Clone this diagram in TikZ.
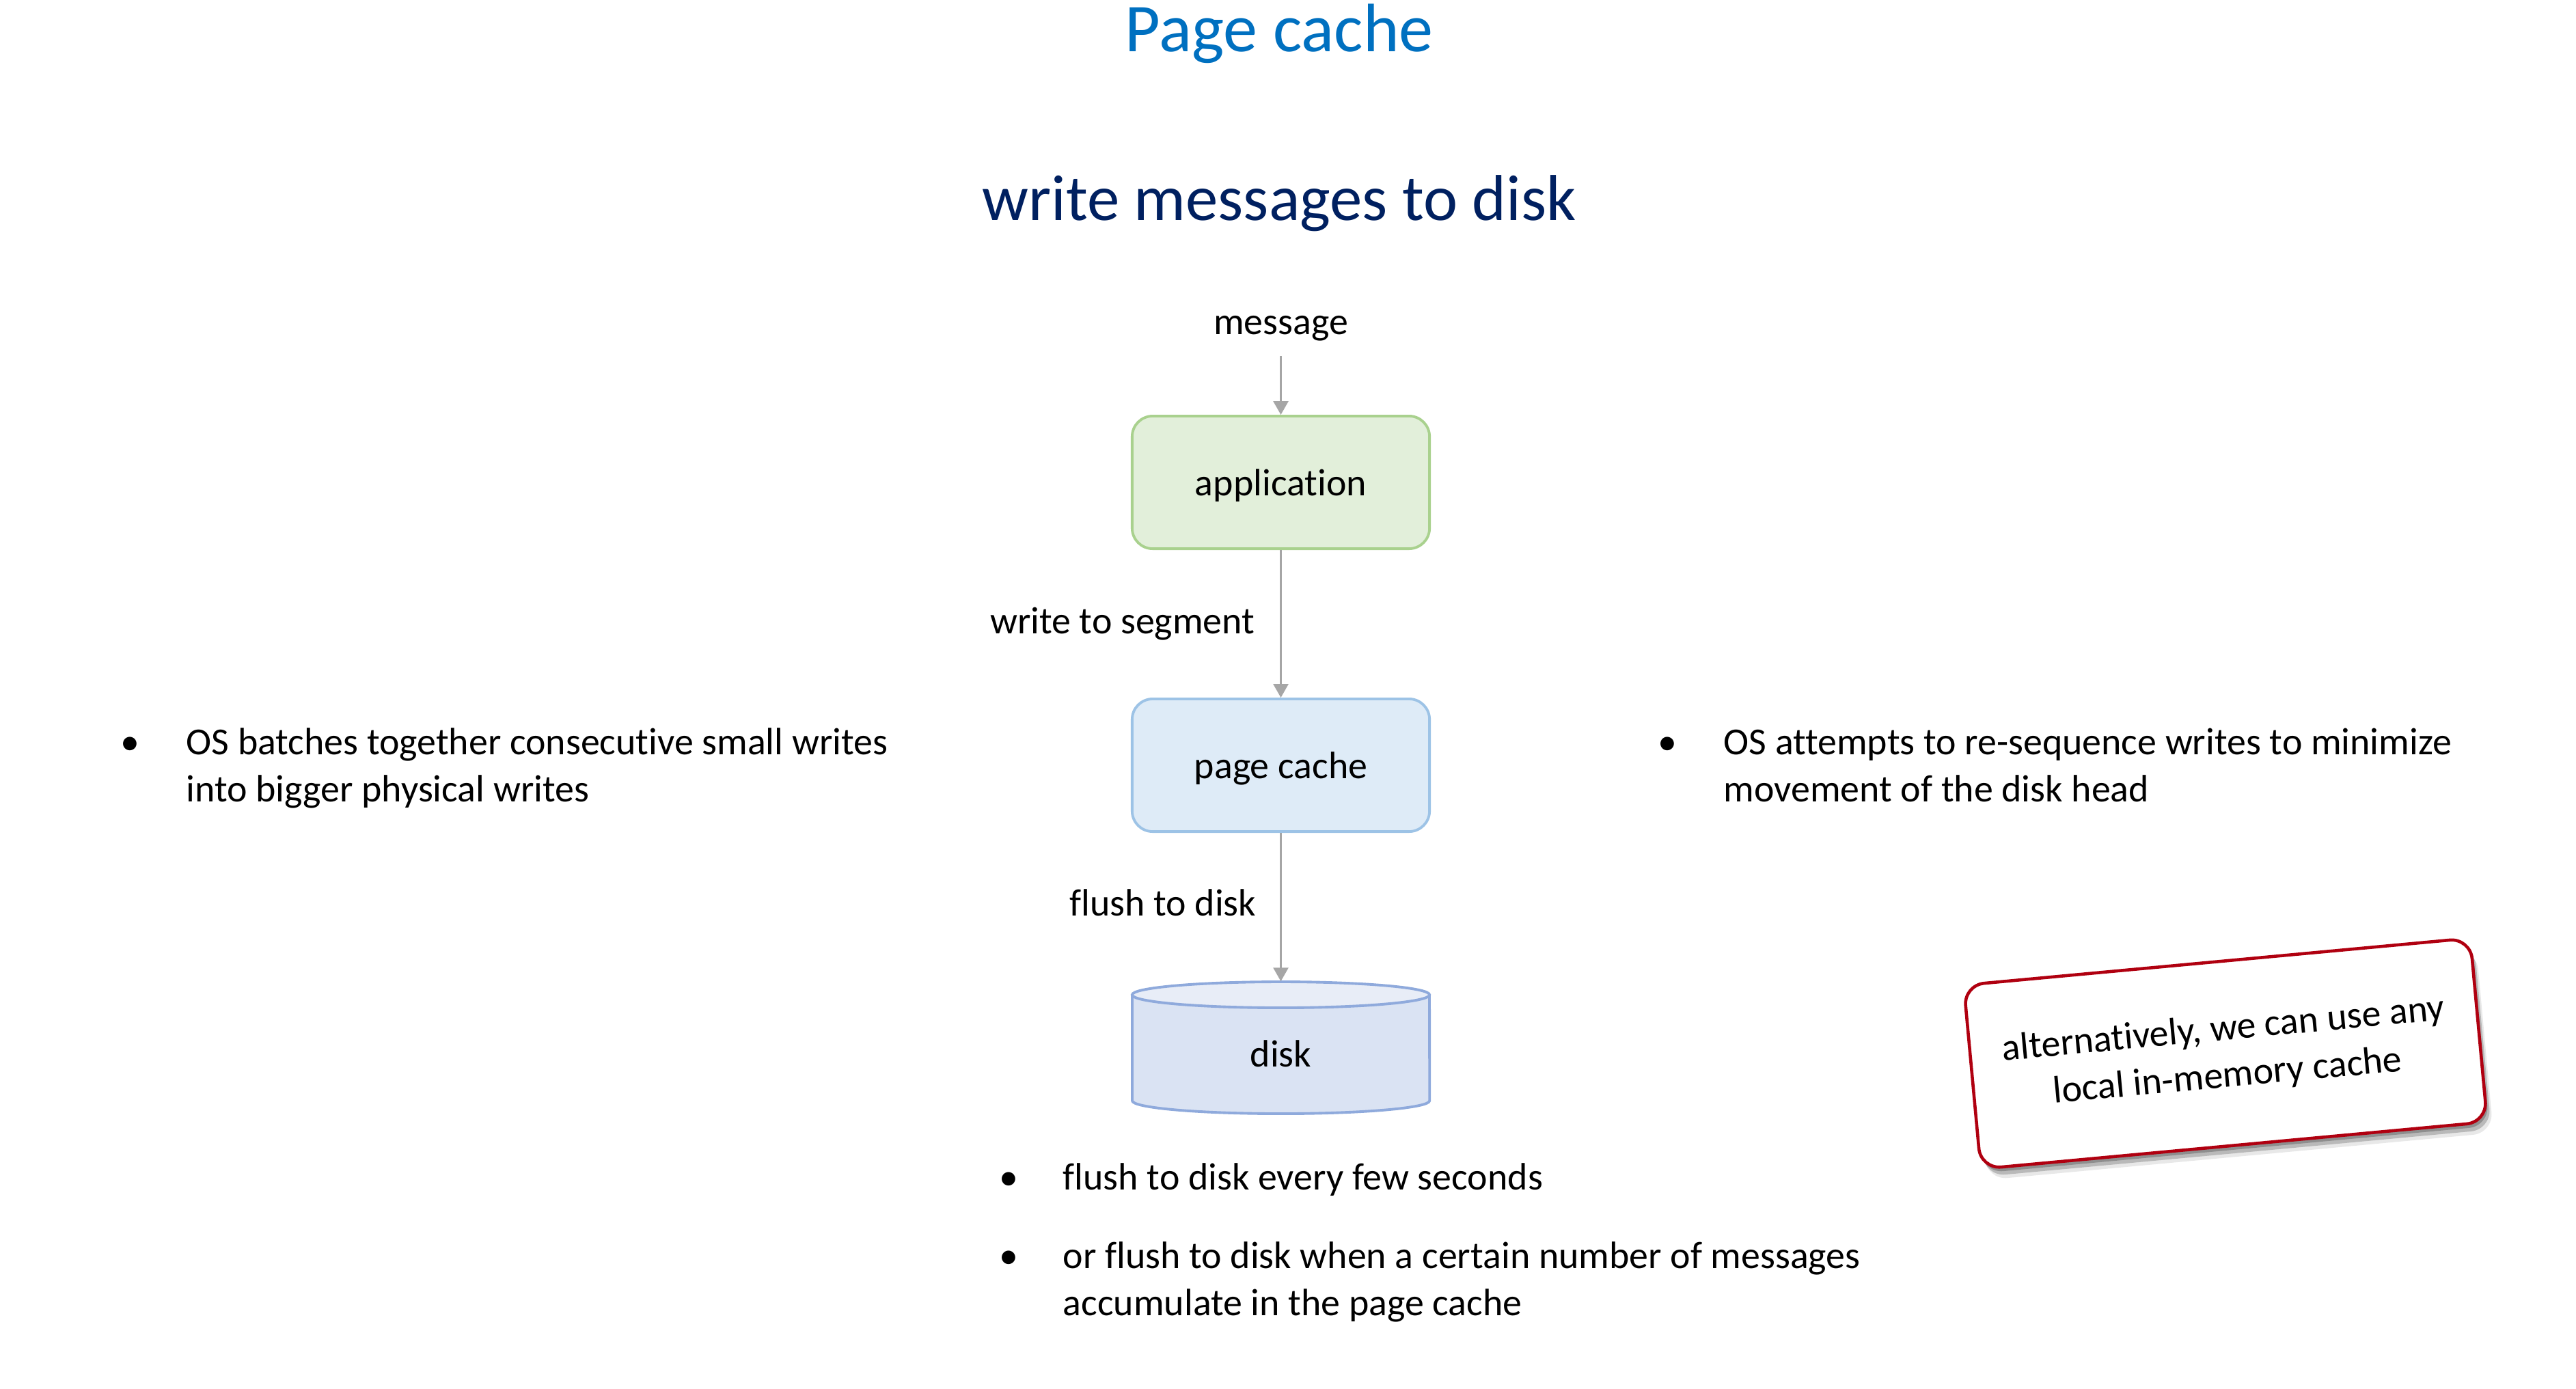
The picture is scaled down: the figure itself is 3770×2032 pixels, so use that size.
\documentclass[tikz,border=0pt]{standalone}
\usepackage{fontspec}
\setmainfont[Ligatures=NoCommon]{Carlito}
\usetikzlibrary{arrows.meta,shadows}
\definecolor{titleblue}{HTML}{0070C0}
\definecolor{navy}{HTML}{002060}
\definecolor{appfill}{HTML}{E2EFDA}
\definecolor{appdraw}{HTML}{A9D18E}
\definecolor{pcfill}{HTML}{DEEBF7}
\definecolor{pcdraw}{HTML}{9DC3E6}
\definecolor{diskfill}{HTML}{DAE3F3}
\definecolor{disktop}{HTML}{E8EDF7}
\definecolor{diskdraw}{HTML}{8FAADC}
\definecolor{flowgray}{HTML}{A6A6A6}
\definecolor{notered}{HTML}{B00010}
\begin{document}
\begin{tikzpicture}[x=0.01cm,y=-0.01cm,
  body/.style={font=\fontsize{15.9}{19.6}\selectfont, inner sep=0pt},
  box/.style={body, rounded corners=0.3cm, minimum width=4.35cm, minimum height=1.94cm, line width=1.1pt, text depth=0pt},
  flow/.style={draw=flowgray, line width=0.8pt, -{Triangle[width=0.22cm,length=0.2cm]}},
  softshadow/.style={drop shadow={shadow xshift=0.03cm, shadow yshift=-0.06cm, opacity=0.35, fill=black!80},
                     drop shadow={shadow xshift=0.06cm, shadow yshift=-0.11cm, opacity=0.3, fill=black!70},
                     drop shadow={shadow xshift=0.09cm, shadow yshift=-0.16cm, opacity=0.15, fill=black!60}},
]
\useasboundingbox[fill=white] (0,0) rectangle (3770,2032);

% titles
\node[font=\fontsize{28.5}{34}\selectfont, text=titleblue, anchor=base, inner sep=0pt] (title) at (1872,75) {Page cache};
\node[font=\fontsize{27}{32}\selectfont, text=navy, anchor=base, inner sep=0pt] (subtitle) at (1872,322) {write messages to disk};

% flow
\node[body, anchor=base] (msg) at (1874.5,489) {message};
\node[box, fill=appfill, draw=appdraw] (app) at (1874.5,706) {application};
\node[box, fill=pcfill, draw=pcdraw] (pc) at (1874.5,1120) {page cache};

% disk cylinder
\path[fill=diskfill, draw=diskdraw, line width=1.1pt] (1657,1456) -- (1657,1611)
  arc[start angle=180, end angle=360, x radius=2.175cm, y radius=0.19cm] -- (2092,1456);
\draw[fill=disktop, draw=diskdraw, line width=1.1pt] (1874.5,1456) ellipse[x radius=2.175cm, y radius=0.19cm];
\node[minimum width=4.35cm, minimum height=1.93cm, inner sep=0pt] (disk) at (1874.5,1533.5) {};
\node[body] (disklbl) at (1874.5,1542) {disk};

\draw[flow] ([yshift=-0.22cm]msg.south) -- (app.north);
\draw[flow] (app) -- (pc);
\draw[flow] (pc) -- (disk);

\node[body, anchor=base east] (lseg) at (1837,927) {write to segment};
\node[body, anchor=base east] (lflush) at (1839,1340) {flush to disk};

% left bullet
\node[body, anchor=base] (b1) at (190,1104) {•};
\node[body, anchor=base west] (t1a) at (272,1104) {OS batches together consecutive small writes};
\node[body, anchor=base west] (t1b) at (272,1173) {into bigger physical writes};

% right bullet
\node[body, anchor=base] (b2) at (2440,1104) {•};
\node[body, anchor=base west] (t2a) at (2522,1104) {OS attempts to re-sequence writes to minimize};
\node[body, anchor=base west] (t2b) at (2522,1173) {movement of the disk head};

% bottom bullets
\node[body, anchor=base] (b3) at (1476,1741) {•};
\node[body, anchor=base west] (t3) at (1555,1741) {flush to disk every few seconds};
\node[body, anchor=base] (b4) at (1476,1856) {•};
\node[body, anchor=base west] (t4a) at (1555,1856) {or flush to disk when a certain number of messages};
\node[body, anchor=base west] (t4b) at (1555,1925) {accumulate in the page cache};

% note
\node[body, rotate=5.3, draw=notered, line width=1.3pt, fill=white, rounded corners=0.3cm,
  minimum width=7.44cm, minimum height=2.7cm, align=center, softshadow] (note) at (3257,1542)
  {alternatively, we can use any\\local in-memory cache};
\end{tikzpicture}
\end{document}
